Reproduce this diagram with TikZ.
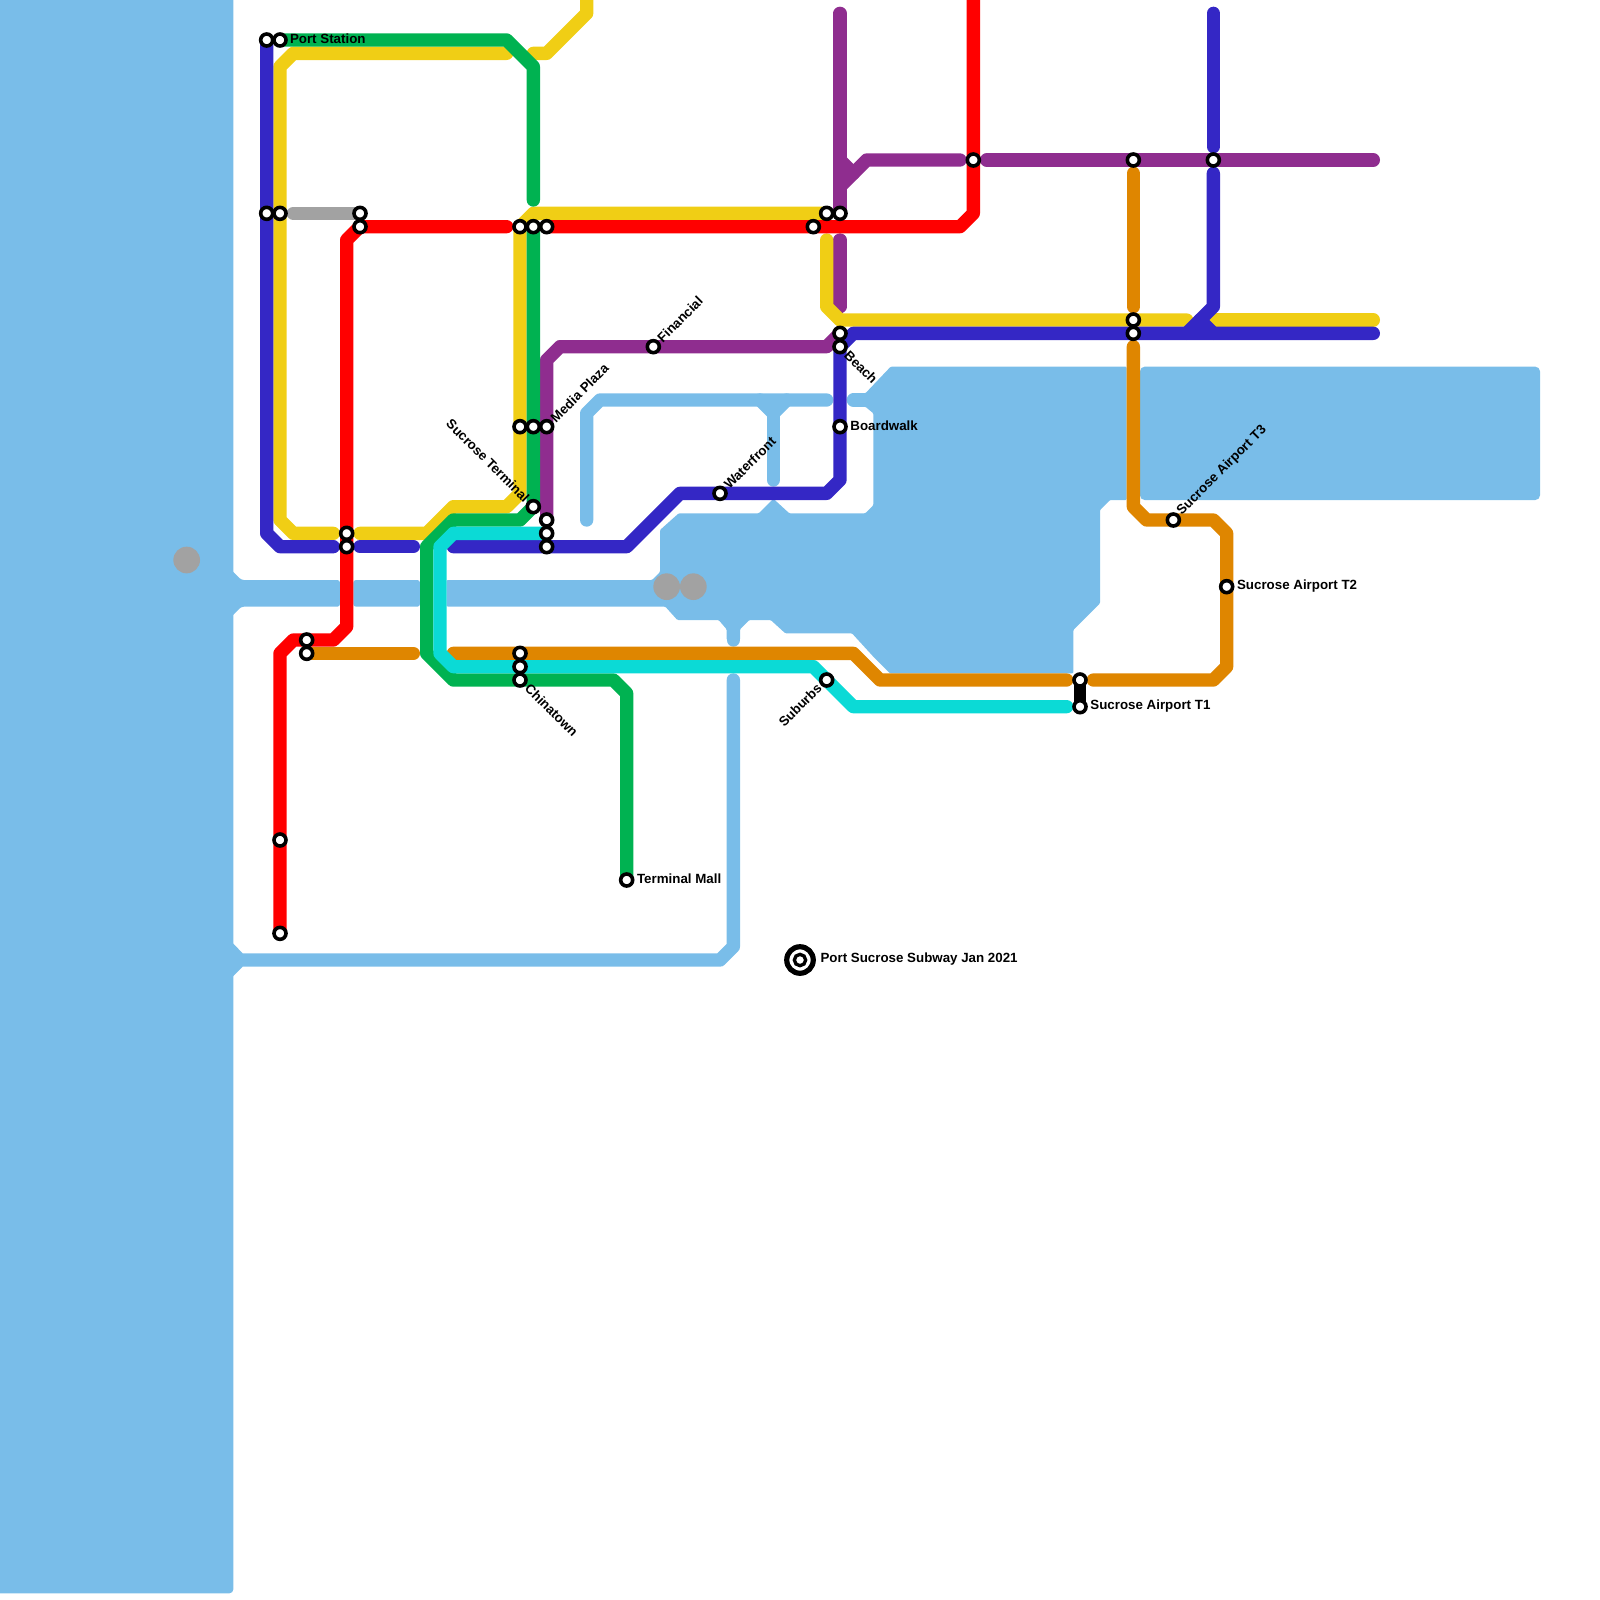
\documentclass[tikz,border=0pt]{standalone}
\usepackage{fontspec}
\setmainfont{Liberation Sans}
\definecolor{water}{HTML}{79BDE9}
\definecolor{myyellow}{HTML}{F0CE15}
\definecolor{mygreen}{HTML}{00B251}
\definecolor{mypurple}{HTML}{8F2D8F}
\definecolor{myblue}{HTML}{3427C5}
\definecolor{myorange}{HTML}{DF8600}
\definecolor{mycyan}{HTML}{0BDAD6}
\definecolor{mygray}{HTML}{A2A2A2}
\tikzset{
  metro/.style={line width=10pt,line cap=round,line join=round},
  wline/.style={metro,draw=water},
  stn/.style={circle,draw=black,fill=white,line width=2.7pt,minimum size=9pt,inner sep=0pt,outer sep=0pt},
  lab/.style={font=\bfseries\fontsize{10}{12}\selectfont,text=black,inner sep=0pt},
  hub/.style={circle,fill=mygray,minimum size=20pt,inner sep=0pt}
}
\begin{document}
\begin{tikzpicture}[x=10pt,y=-10pt]
\useasboundingbox (0,0) rectangle (120,120);
% water
\fill[water,rounded corners=3pt] (-1,-1) -- (17.5,-1) -- (17.5,119.5) -- (-1,119.5) -- cycle;
\fill[water,rounded corners=2pt] (17,42.4) -- (18.1,43.5) -- (25.5,43.5) -- (25.5,45.5) -- (18.1,45.5) -- (17,46.6) -- cycle;
\fill[water,rounded corners=2pt] (26.5,43.5) rectangle (31.5,45.5);
\fill[water,rounded corners=3.5pt] (85.5,27.5) rectangle (115.5,37.5);
\fill[water,rounded corners=0.8pt]
  (33.5,43.5) -- (48.9,43.5) -- (49.5,42.9) -- (49.5,39.75) -- (50.9,38.5) -- (56.9,38.5) -- (58,37.4) -- (59.2,38.5)
  -- (64.9,38.5) -- (65.5,37.9) -- (65.5,31) -- (64.9,30.5) -- (64,30.5) -- (64,29.5) -- (64.9,29.5) -- (66.8,27.5)
  -- (84.5,27.5) -- (84.5,37.5) -- (83.25,37.5) -- (82.5,38.25) -- (82.5,45.25) -- (80.5,47.25) -- (80.5,50.5)
  -- (66.75,50.5) -- (65.5,49.25) -- (63.9,47.5) -- (58.9,47.5) -- (57.8,46.5) -- (56.2,46.5) -- (55.5,47.2) -- (55.5,48)
  -- (54.5,48) -- (54.5,47.2) -- (53.9,46.5) -- (50.8,46.5) -- (49.9,45.5) -- (33.5,45.5) -- cycle;
\draw[wline] (55,47) -- (55,48);
\draw[wline] (64,30) -- (65,30);
\draw[wline] (44,39) -- (44,31) -- (45,30) -- (62,30);
\draw[wline] (57,30) -- (58,31) -- (59,30);
\draw[wline] (58,31) -- (58,36);
\draw[wline] (55,51) -- (55,71) -- (54,72) -- (17,72);
\fill[water] (17,70.25) -- (18.2,71.5) -- (18.2,72.5) -- (17,73.7) -- cycle;
% grey hubs
\node[hub] (h1) at (14,42) {};
\node[hub] (h2) at (50,44) {};
\node[hub] (h3) at (52,44) {};
% lines
\draw[metro,draw=mygray] (22,16) -- (27,16);
\begin{scope}[metro]
\draw[mypurple] (63,1) -- (63,16);
\draw[mypurple] (63,14) -- (65,12) -- (72,12);
\draw[mypurple] (63,12) -- (64,13);
\draw[mypurple] (74,12) -- (103,12);
\draw[mypurple] (63,18) -- (63,23);
\draw[mypurple] (41,39) -- (41,27) -- (42,26) -- (62,26) -- (63,25);
\draw[myyellow] (44,-2) -- (44,1) -- (41,4) -- (40,4);
\draw[myyellow] (38,4) -- (22,4) -- (21,5) -- (21,39) -- (22,40) -- (25,40);
\draw[myyellow] (27,40) -- (32,40) -- (34,38) -- (38,38) -- (39,37) -- (39,17) -- (40,16) -- (62,16);
\draw[myyellow] (62,18) -- (62,23) -- (63,24) -- (89,24);
\draw[myyellow] (91,24) -- (103,24);
\draw[mygreen] (21,3) -- (38,3) -- (40,5) -- (40,15);
\draw[mygreen] (40,17) -- (40,38) -- (39,39) -- (34,39) -- (32,41) -- (32,49) -- (34,51) -- (46,51) -- (47,52) -- (47,66);
\draw[myblue] (20,3) -- (20,40) -- (21,41) -- (25,41);
\draw[myblue] (27,41) -- (31,41);
\draw[myblue] (34,41) -- (47,41) -- (51,37) -- (62,37) -- (63,36) -- (63,26) -- (64,25) -- (103,25);
\draw[myblue] (91,1) -- (91,11);
\draw[myblue] (91,13) -- (91,23) -- (89,25);
\draw[myblue] (90,24) -- (91,25);
\draw[red] (73,-2) -- (73,16) -- (72,17) -- (41,17);
\draw[red] (38,17) -- (27,17) -- (26,18) -- (26,47) -- (25,48) -- (22,48) -- (21,49) -- (21,70);
\draw[myorange] (23,49) -- (31,49);
\draw[myorange] (34,49) -- (64,49) -- (66,51) -- (80,51);
\draw[myorange] (82,51) -- (91,51) -- (92,50) -- (92,40) -- (91,39) -- (86,39) -- (85,38) -- (85,26);
\draw[myorange] (85,13) -- (85,23);
\draw[mycyan] (41,40) -- (34,40) -- (33,41) -- (33,49) -- (34,50) -- (61,50) -- (64,53) -- (80,53);
\end{scope}
% connector between the two airport terminal stations
\coordinate (t1atop) at (81,51);
\coordinate (t1bbot) at (81,53);
\draw[line width=9pt,line cap=round,draw=black] (t1atop) -- (t1bbot);
% stations
\foreach \n/\x/\y in {a1/20/3,a2/21/3,b1/20/16,b2/21/16,c1/27/16,c2/27/17,
 d1/39/17,d2/40/17,d3/41/17,e1/39/32,e2/40/32,e3/41/32,st/40/38,f1/41/39,f2/41/40,f3/41/41,
 g1/26/40,g2/26/41,i1/23/48,i2/23/49,j1/39/49,j2/39/50,j3/39/51,tm/47/66,k1/21/63,k2/21/70,
 fin/49/26,wat/54/37,bw/63/32,be1/63/25,be2/63/26,l1/61/17,l2/62/16,l3/63/16,m/73/12,n/85/12,o/91/12,
 p1/85/24,p2/85/25,sub/62/51,t1a/81/51,t1b/81/53,t2/92/44,t3/88/39}
  {\node[stn] (\n) at (\x,\y) {};}
% legend
\node[circle,draw=black,line width=3.9pt,minimum size=19.9pt,inner sep=0pt] (leg) at (60,72) {};
\node[circle,draw=black,fill=white,line width=2.5pt,minimum size=8.5pt,inner sep=0pt] (legin) at (60,72) {};
% labels
\node[lab,anchor=west] (lport) at ([shift={(7.3pt,0.7pt)}]a2.center) {Port Station};
\node[lab,anchor=west] (lbw) at ([shift={(7.6pt,0.7pt)}]bw.center) {Boardwalk};
\node[lab,anchor=west] (ltm) at ([shift={(7.6pt,0.7pt)}]tm.center) {Terminal Mall};
\node[lab,anchor=west] (lt1) at ([shift={(7.6pt,0.7pt)}]t1b.center) {Sucrose Airport T1};
\node[lab,anchor=west] (lt2) at ([shift={(7.6pt,0.7pt)}]t2.center) {Sucrose Airport T2};
\node[lab,anchor=west] (lleg) at ([shift={(15.2pt,0.5pt)}]leg.center) {Port Sucrose Subway Jan 2021};
\node[lab,anchor=west,rotate=45] (lfin) at ([shift={(4.5pt,5pt)}]fin.center) {Financial};
\node[lab,anchor=west,rotate=45] (lwat) at ([shift={(4.5pt,5pt)}]wat.center) {Waterfront};
\node[lab,anchor=west,rotate=45] (lmed) at ([shift={(4.5pt,5pt)}]e3.center) {Media Plaza};
\node[lab,anchor=west,rotate=45] (lt3) at ([shift={(4.5pt,5pt)}]t3.center) {Sucrose Airport T3};
\node[lab,anchor=west,rotate=-45] (lbe) at ([shift={(5pt,-4.5pt)}]be2.center) {Beach};
\node[lab,anchor=west,rotate=-45] (lchi) at ([shift={(5.5pt,-4.5pt)}]j3.center) {Chinatown};
\node[lab,anchor=east,rotate=-45] (lst) at ([shift={(-4.5pt,5pt)}]st.center) {Sucrose Terminal};
\node[lab,anchor=east,rotate=45] (lsub) at ([shift={(-5.5pt,-4.5pt)}]sub.center) {Suburbs};
\end{tikzpicture}
\end{document}
